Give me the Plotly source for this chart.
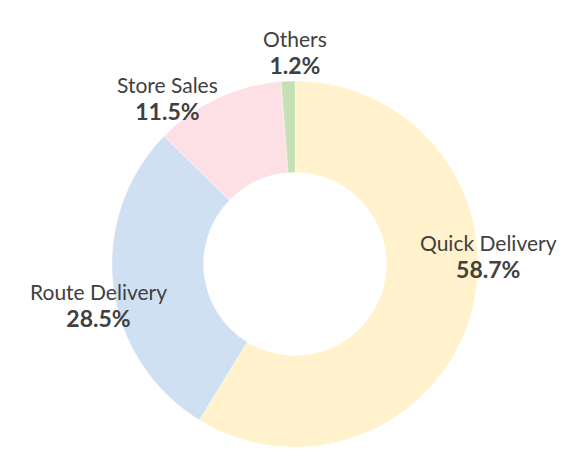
import plotly.graph_objects as go

# Data
categories = ["Quick Delivery", "Route Delivery", "Store Sales", "Others"]
shares = [58.7, 28.5, 11.5, 1.2]
colors = ["#FFF2CC", "#CFE0F2", "#FDE0E6", "#C5E0B4"]

# label centres in screen pixels, tuned to the reference layout
label_pos = {
    "Quick Delivery": (488, 256),
    "Route Delivery": (98, 305),
    "Store Sales": (167, 99),
    "Others": (295, 52),
}

# page body has an 8px margin, so keep the figure inside the window
OFF = 8
W, H = 586 - 2 * OFF, 476 - 2 * OFF
cx, cy, r = 295 - OFF, 264 - OFF, 183

fig = go.Figure()
fig.add_pie(
    labels=categories,
    values=shares,
    hole=0.5,
    sort=False,
    direction="clockwise",
    rotation=0,
    marker=dict(colors=colors, line=dict(color="rgba(255,255,255,0.6)", width=0.5)),
    textinfo="none",
    showlegend=False,
    domain=dict(x=[(cx - r) / W, (cx + r) / W], y=[(H - cy - r) / H, (H - cy + r) / H]),
    hovertemplate="%{label}: %{value:.1f}%<extra></extra>",
)

for name, val in zip(categories, shares):
    px, py = label_pos[name]
    fig.add_annotation(
        x=(px - OFF) / W, y=1 - (py - OFF) / H, xref="paper", yref="paper",
        xanchor="center", yanchor="middle",
        text=f"{name}<br><b><span style='font-size:23px'>{val:.1f}%</span></b>",
        showarrow=False, align="center",
        font=dict(family="Lato, Open Sans, sans-serif", size=21, color="#404040"),
    )

fig.update_layout(
    width=W, height=H,
    margin=dict(l=0, r=0, t=0, b=0),
    paper_bgcolor="white",
    plot_bgcolor="white",
)

fig.write_html("out.html")
